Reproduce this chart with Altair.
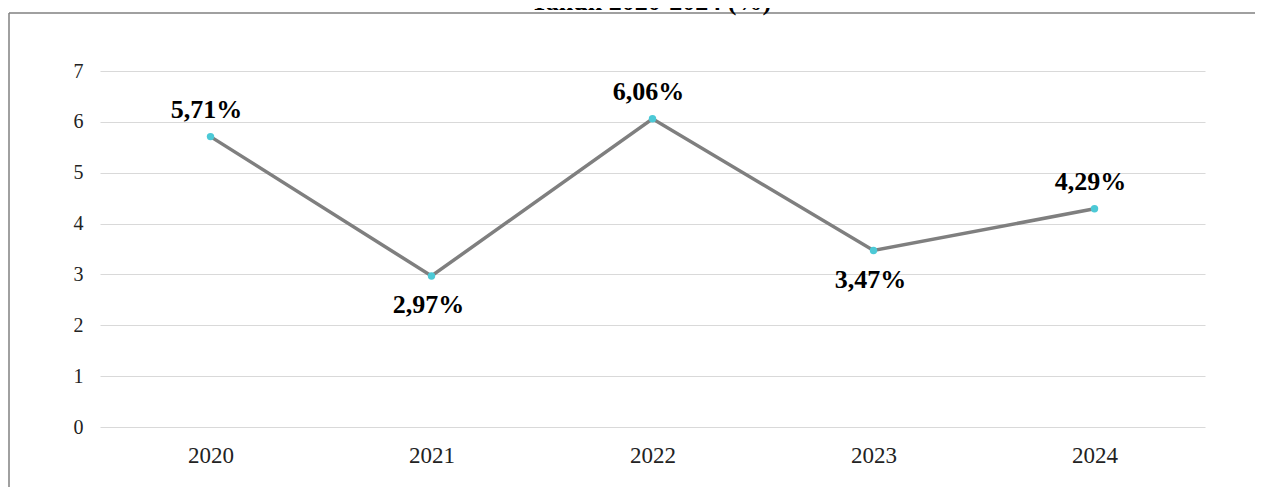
import altair as alt
import pandas as pd

years = ["2020", "2021", "2022", "2023", "2024"]
growth = [5.71, 2.97, 6.06, 3.47, 4.29]
below_years = ["2021", "2023"]
title_text = "Tahun 2020-2024 (%)"

df = pd.DataFrame({"year": years, "value": growth})
df["label"] = [f"{v:.2f}".replace(".", ",") + "%" for v in growth]

SERIF = "Liberation Serif"

x_enc = alt.X("year:N", title=None, sort=years,
              axis=alt.Axis(labelAngle=0, labelFont=SERIF, labelFontSize=23,
                            labelColor="#222222", ticks=False, domain=False,
                            labelPadding=17, grid=False))
y_enc = alt.Y("value:Q", title=None,
              scale=alt.Scale(domain=[0, 7], nice=False),
              axis=alt.Axis(values=[0, 1, 2, 3, 4, 5, 6, 7], labelFont=SERIF,
                            labelFontSize=20, labelColor="#222222", ticks=False,
                            domain=False, labelPadding=17, grid=True,
                            gridColor="#d9d9d9", gridWidth=1.2))

base = alt.Chart(df)
frame_src = alt.Chart(pd.DataFrame({"a": [0]}))

border_left = frame_src.mark_rule(color="#808080", strokeWidth=1.5).encode(
    x=alt.value(-91), y=alt.value(-58), y2=alt.value(416))
border_top = frame_src.mark_rule(color="#808080", strokeWidth=1.5).encode(
    x=alt.value(-91), x2=alt.value(1155), y=alt.value(-58))

title = alt.Chart(pd.DataFrame({"t": [title_text]})).mark_text(
    font=SERIF, fontSize=26, fontWeight="bold", color="#000000",
    baseline="alphabetic", align="center"
).encode(x=alt.value(551), y=alt.value(-61), text="t:N")

line = base.mark_line(color="#7f7f7f", strokeWidth=3.5).encode(x=x_enc, y=y_enc)
points = base.mark_circle(color="#4cc9d6", opacity=1, size=55).encode(x=x_enc, y=y_enc)

labels_above = base.transform_filter(
    ~alt.FieldOneOfPredicate(field="year", oneOf=below_years)
).mark_text(font=SERIF, fontSize=26, fontWeight="bold", color="#000000",
            baseline="alphabetic", dy=-19, dx=-4).encode(x=x_enc, y=y_enc, text="label:N")

labels_below = base.transform_filter(
    alt.FieldOneOfPredicate(field="year", oneOf=below_years)
).mark_text(font=SERIF, fontSize=26, fontWeight="bold", color="#000000",
            baseline="alphabetic", dy=37, dx=-3).encode(x=x_enc, y=y_enc, text="label:N")

chart = alt.layer(border_left, border_top, title, line, points, labels_above, labels_below).properties(
    width=1105, height=356,
    background="#ffffff",
    autosize=alt.AutoSizeParams(type="none"),
    padding={"left": 92, "top": 63, "right": 50, "bottom": 60},
).configure_view(strokeWidth=0, stroke="transparent")

chart.save("out.html", embed_options={"renderer": "svg", "actions": False})
